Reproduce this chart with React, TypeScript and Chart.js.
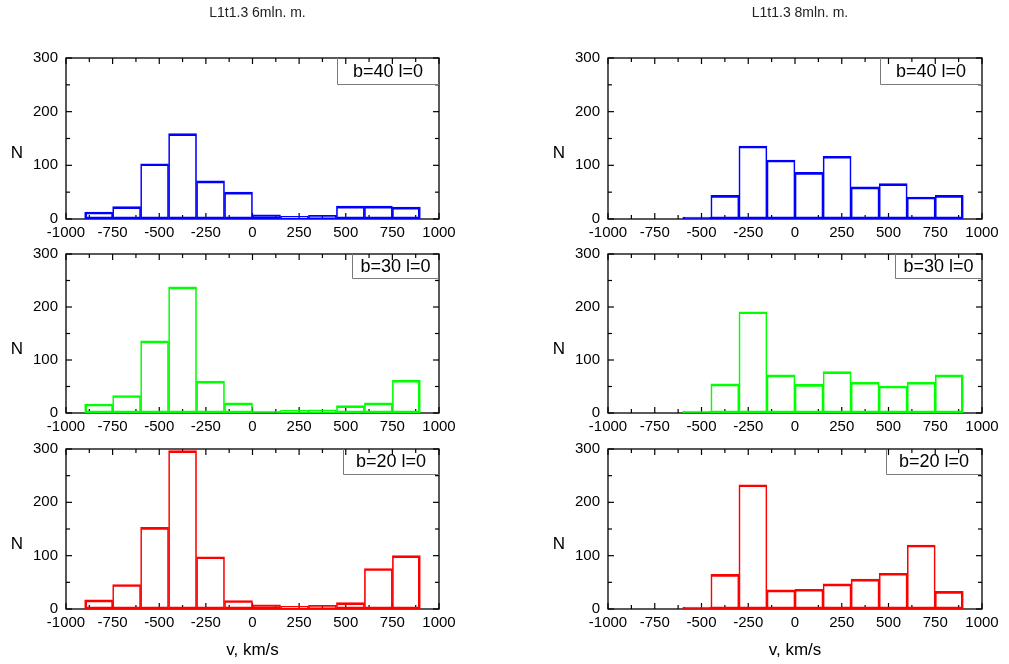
import React, { useEffect, useRef } from 'react';
import { Chart, registerables } from 'chart.js';

Chart.register(...registerables);
Chart.defaults.font.family = '"Liberation Sans", Arial, sans-serif';

// ---- data ----
const binCenters = [-825, -675, -525, -375, -225, -75, 75, 225, 375, 525, 675, 825];

const counts6mlnB40 = [13, 23, 103, 159, 71, 50, 8, 5, 7, 24, 24, 22];
const counts6mlnB30 = [17, 33, 136, 238, 60, 19, 3, 5, 6, 14, 19, 62];
const counts6mlnB20 = [17, 46, 153, 297, 98, 16, 8, 5, 7, 12, 76, 100];

const counts8mlnB40 = [null, null, 1, 44, 136, 110, 87, 117, 60, 66, 41, 44];
const counts8mlnB30 = [null, null, 1, 55, 191, 72, 54, 78, 58, 51, 58, 72];
const counts8mlnB20 = [null, null, 1, 65, 233, 36, 37, 47, 56, 67, 120, 33];

const columnTitles = ['L1t1.3 6mln. m.', 'L1t1.3 8mln. m.'];
const rowLabels = ['b=40 l=0', 'b=30 l=0', 'b=20 l=0'];
const xAxisTitle = 'v, km/s';
const yAxisTitle = 'N';
const xRange = [-1000, 1000];
const yRange = [0, 300];
const xStep = 250;
const yStep = 100;

const seriesByColumn = [
  [counts6mlnB40, counts6mlnB30, counts6mlnB20],
  [counts8mlnB40, counts8mlnB30, counts8mlnB20],
];
const rowColors = ['#0000ff', '#00ff00', '#ff0000'];

// ---- layout (styling) ----
const COLS = [
  { L: 66, R: 439, cx: 0, cw: 500 },
  { L: 608, R: 982, cx: 500, cw: 509 },
];
const ROWS = [
  { T: 58, B: 219, cy: 0, ch: 255, boxW: 102, boxH: 26 },
  { T: 254, B: 413, cy: 236, ch: 212, boxW: 87, boxH: 24 },
  { T: 449, B: 609, cy: 431, ch: 233, boxW: 96, boxH: 25 },
];
const YW = 40;
const XH = 25;
const FONT = '"Liberation Sans", Arial, sans-serif';

const decorPlugin = {
  id: 'decor',
  beforeDatasetsDraw(chart: any) {
    const { ctx, chartArea: a, scales } = chart;
    const x = scales.x;
    const y = scales.y;
    ctx.save();
    ctx.strokeStyle = '#000';
    ctx.lineWidth = 1.3;
    ctx.strokeRect(a.left, a.top, a.right - a.left, a.bottom - a.top);
    ctx.lineWidth = 1.2;
    const line = (x1: number, y1: number, x2: number, y2: number) => {
      ctx.beginPath();
      ctx.moveTo(x1, y1);
      ctx.lineTo(x2, y2);
      ctx.stroke();
    };
    const xt = x.ticks.map((t: any) => t.value);
    const yt = y.ticks.map((t: any) => t.value);
    const withMinor = (vals: number[]) => {
      const out: [number, boolean][] = [];
      vals.forEach((v, i) => {
        out.push([v, true]);
        if (i < vals.length - 1) out.push([(v + vals[i + 1]) / 2, false]);
      });
      return out;
    };
    withMinor(xt).forEach(([v, major]) => {
      const p = x.getPixelForValue(v);
      const len = major ? 6 : 4;
      line(p, a.bottom, p, a.bottom - len);
      line(p, a.top, p, a.top + len);
    });
    withMinor(yt).forEach(([v, major]) => {
      const p = y.getPixelForValue(v);
      const len = major ? 6 : 4;
      line(a.left, p, a.left + len, p);
      line(a.right, p, a.right - len, p);
    });
    ctx.restore();
  },
  afterDatasetsDraw(chart: any, _args: any, opts: any) {
    const { ctx, chartArea: a } = chart;
    ctx.save();
    // legend box
    const bx = a.right - opts.boxW;
    const by = a.top + opts.boxH;
    ctx.strokeStyle = '#7a7a7a';
    ctx.lineWidth = 1;
    ctx.beginPath();
    ctx.moveTo(Math.round(bx) + 0.5, a.top);
    ctx.lineTo(Math.round(bx) + 0.5, Math.round(by) + 0.5);
    ctx.lineTo(a.right, Math.round(by) + 0.5);
    ctx.stroke();
    ctx.fillStyle = '#000';
    ctx.textAlign = 'center';
    ctx.textBaseline = 'middle';
    ctx.font = `18px ${FONT}`;
    ctx.fillText(opts.label, (bx + a.right) / 2, a.top + opts.boxH / 2 + 1);
    // y title
    ctx.font = `17px ${FONT}`;
    ctx.fillText(yAxisTitle, a.left - 49, a.top + 95);
    const cxm = (a.left + a.right) / 2;
    if (opts.title) {
      ctx.font = `14px ${FONT}`;
      ctx.fillStyle = '#222';
      ctx.fillText(opts.title, cxm + 5, 13);
    }
    if (opts.xTitle) {
      ctx.fillStyle = '#000';
      ctx.font = `17px ${FONT}`;
      ctx.fillText(opts.xTitle, cxm, a.bottom + 41);
    }
    ctx.restore();
  },
};

function Panel({ col, row }: { col: number; row: number }) {
  const ref = useRef<HTMLCanvasElement | null>(null);
  const c = COLS[col];
  const r = ROWS[row];
  useEffect(() => {
    const values = seriesByColumn[col][row];
    const firstIdx = values.findIndex((v) => v !== null);
    let lastIdx = values.length - 1;
    while (lastIdx >= 0 && values[lastIdx] === null) lastIdx--;
    const chart = new Chart(ref.current as HTMLCanvasElement, {
      type: 'bar',
      data: {
        datasets: [
          {
            data: binCenters.map((xc, i) => ({ x: xc, y: values[i] })) as any,
            borderColor: rowColors[row],
            backgroundColor: 'rgba(0,0,0,0)',
            borderWidth: (ctx: any) => ({
              top: 2,
              bottom: 2,
              left: ctx.dataIndex === firstIdx ? 2 : 1,
              right: ctx.dataIndex === lastIdx ? 2 : 1,
            }),
            borderSkipped: false,
            barPercentage: 1,
            categoryPercentage: 1,
            minBarLength: 2,
          } as any,
        ],
      },
      options: {
        animation: false,
        responsive: false,
        events: [],
        layout: {
          padding: {
            left: c.L - c.cx - YW,
            right: c.cx + c.cw - c.R,
            top: r.T - r.cy,
            bottom: r.cy + r.ch - r.B - XH,
          },
        },
        plugins: {
          legend: { display: false },
          tooltip: { enabled: false },
          decor: {
            label: rowLabels[row],
            boxW: r.boxW,
            boxH: r.boxH,
            title: row === 0 ? columnTitles[col] : null,
            xTitle: row === 2 ? xAxisTitle : null,
          },
        } as any,
        scales: {
          x: {
            type: 'linear',
            min: xRange[0],
            max: xRange[1],
            offset: false,
            grid: { display: false, drawTicks: false },
            border: { display: false },
            ticks: {
              stepSize: xStep,
              padding: 5,
              color: '#000',
              font: { size: 15 },
              maxRotation: 0,
              autoSkip: false,
              callback: (v: any) => String(v),
            },
            afterFit: (s: any) => {
              s.height = XH;
            },
          },
          y: {
            type: 'linear',
            min: yRange[0],
            max: yRange[1],
            grid: { display: false, drawTicks: false },
            border: { display: false },
            ticks: {
              stepSize: yStep,
              padding: 8,
              color: '#000',
              font: { size: 15 },
              callback: (v: any) => String(v),
            },
            afterFit: (s: any) => {
              s.width = YW;
            },
          },
        } as any,
      },
      plugins: [decorPlugin],
    });
    return () => chart.destroy();
  }, [col, row]);
  return (
    <canvas
      ref={ref}
      width={c.cw}
      height={r.ch}
      style={{ position: 'absolute', left: c.cx, top: r.cy, width: c.cw, height: r.ch, display: 'block' }}
    />
  );
}

export default function App() {
  const panels: JSX.Element[] = [];
  for (let col = 0; col < 2; col++) {
    for (let row = 0; row < 3; row++) {
      panels.push(<Panel key={`${col}-${row}`} col={col} row={row} />);
    }
  }
  return (
    <div style={{ position: 'absolute', left: 0, top: 0, width: 1009, height: 664, background: '#fff', overflow: 'hidden' }}>
      {panels}
    </div>
  );
}
